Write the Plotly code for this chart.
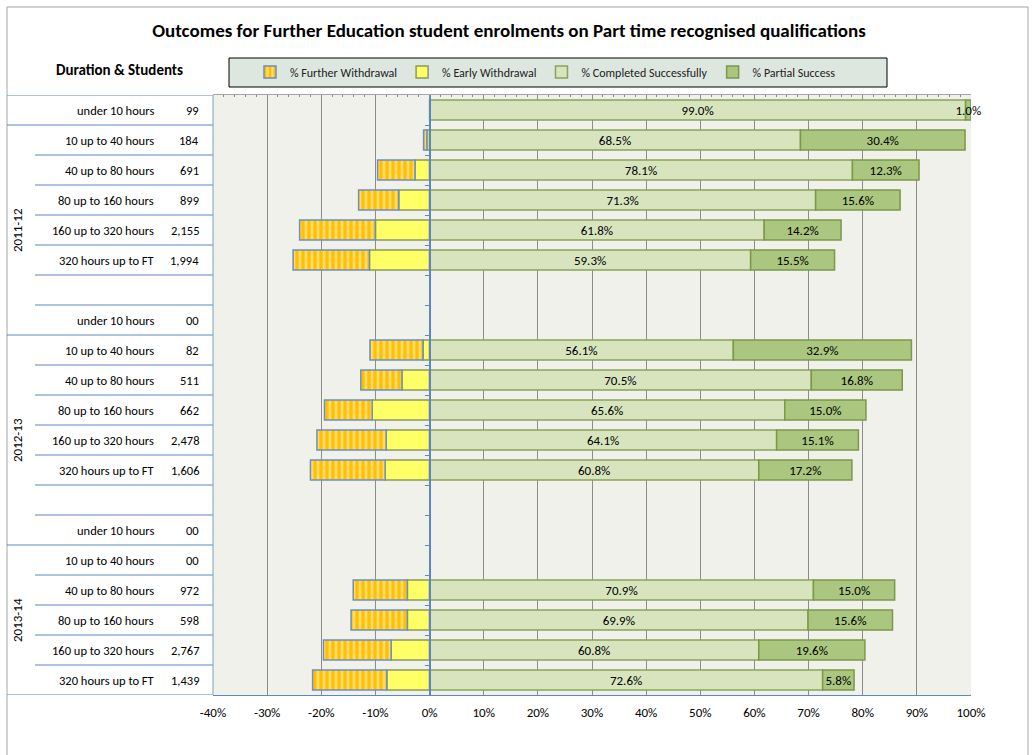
import plotly.graph_objects as go

# ---------------- data ----------------
title = "Outcomes for Further Education student enrolments on Part time recognised qualifications"
years = ["2011-12", "2012-13", "2013-14"]
year_first_row = [1, 8, 15]
year_last_row = [7, 14, 19]
durations = ["under 10 hours", "10 up to 40 hours", "40 up to 80 hours",
             "80 up to 160 hours", "160 up to 320 hours", "320 hours up to FT"]
row_duration = durations + [""] + durations + [""] + durations
students = ["99", "184", "691", "899", "2,155", "1,994", "",
            "00", "82", "511", "662", "2,478", "1,606", "",
            "00", "00", "972", "598", "2,767", "1,439"]

further_withdrawal = [None, 0.6, 6.9, 7.4, 14.0, 14.1, None,
                      None, 9.8, 7.6, 8.8, 12.8, 13.8, None,
                      None, None, 10.0, 10.4, 12.5, 13.7]
early_withdrawal = [None, 0.5, 2.7, 5.7, 10.0, 11.1, None,
                    None, 1.2, 5.1, 10.6, 8.0, 8.2, None,
                    None, None, 4.1, 4.1, 7.1, 7.9]
completed = [99.0, 68.5, 78.1, 71.3, 61.8, 59.3, None,
             None, 56.1, 70.5, 65.6, 64.1, 60.8, None,
             None, None, 70.9, 69.9, 60.8, 72.6]
partial = [1.0, 30.4, 12.3, 15.6, 14.2, 15.5, None,
           None, 32.9, 16.8, 15.0, 15.1, 17.2, None,
           None, None, 15.0, 15.6, 19.6, 5.8]

x_ticks = list(range(-40, 101, 10))
x_tick_labels = [f"{v}%" for v in x_ticks]

# ---------------- layout geometry ----------------
W, H = 1035, 755
L, R, T, B = 213, 971, 95, 695
FONT = "Carlito, Calibri, Lato, sans-serif"


def px2x(px):
    return (px - L) / (R - L)


def py2y(py):
    return (B - py) / (B - T)


rows = list(range(len(row_duration)))


def neg(vals):
    return [None if v is None else -v for v in vals]


fig = go.Figure()

fig.add_trace(go.Bar(
    name="% Early Withdrawal", y=rows, x=neg(early_withdrawal), orientation="h",
    marker=dict(color="#FFFF66", line=dict(color="#8A9A5B", width=1.5)),
    legendrank=2, hoverinfo="skip"))
fig.add_trace(go.Bar(
    name="% Further Withdrawal", y=rows, x=neg(further_withdrawal), orientation="h",
    marker=dict(color="#FFC000", line=dict(color="#6A8FC4", width=1.5),
                pattern=dict(shape="|", fgcolor="#FFF6DC", bgcolor="#FFC000",
                             size=6, solidity=0.45)),
    legendrank=1, hoverinfo="skip"))
fig.add_trace(go.Bar(
    name="% Completed Successfully", y=rows, x=completed, orientation="h",
    marker=dict(color="#D7E4BD", line=dict(color="#8AA35A", width=1.5)),
    texttemplate="%{x:.1f}%", textposition="inside", insidetextanchor="middle",
    textangle=0, constraintext="none",
    textfont=dict(family=FONT, size=13, color="#000000"),
    legendrank=3, hoverinfo="skip"))
fig.add_trace(go.Bar(
    name="% Partial Success", y=rows, x=partial, orientation="h",
    marker=dict(color="#ABC67E", line=dict(color="#7C9848", width=1.5)),
    texttemplate="%{x:.1f}%", textposition="inside", insidetextanchor="middle",
    textangle=0, constraintext="none", cliponaxis=False,
    textfont=dict(family=FONT, size=13, color="#000000"),
    legendrank=4, hoverinfo="skip"))
# helper for the top ruler axis
fig.add_trace(go.Scatter(x=[x_ticks[0], x_ticks[-1]], y=[rows[0], rows[0]], xaxis="x2",
                         mode="markers", marker=dict(opacity=0), showlegend=False,
                         hoverinfo="skip"))

shapes = []
# outer frame
shapes.append(dict(type="rect", xref="paper", yref="paper",
                   x0=px2x(7), x1=px2x(1028), y0=py2y(760), y1=py2y(7),
                   line=dict(color="#A6A6A6", width=1), layer="below"))
# legend box
shapes.append(dict(type="rect", xref="paper", yref="paper",
                   x0=px2x(229), x1=px2x(887), y0=py2y(87), y1=py2y(58),
                   line=dict(color="#000000", width=1), fillcolor="#DEE6E0", layer="below"))
# table lines
group_bounds = [-0.5] + [f - 0.5 for f in year_first_row] + [year_last_row[-1] + 0.5]
for b in [r - 0.5 for r in rows] + [rows[-1] + 0.5]:
    start = 7 if b in group_bounds else 35
    shapes.append(dict(type="line", xref="paper", yref="y",
                       x0=px2x(start), x1=0, y0=b, y1=b,
                       line=dict(color="#5B87C5", width=1)))
# table right edge
shapes.append(dict(type="line", xref="paper", yref="paper", x0=0, x1=0, y0=0, y1=1,
                   line=dict(color="#7F9FCB", width=1)))

annotations = []
for r in rows:
    if row_duration[r]:
        annotations.append(dict(text=row_duration[r], xref="paper", yref="y",
                                x=px2x(156), y=r, xanchor="right", yanchor="middle",
                                showarrow=False, font=dict(family=FONT, size=12.5, color="#000")))
    if students[r]:
        annotations.append(dict(text=students[r], xref="paper", yref="y",
                                x=px2x(201), y=r, xanchor="right", yanchor="middle",
                                showarrow=False, font=dict(family=FONT, size=12.5, color="#000")))
for yr, f, l in zip(years, year_first_row, year_last_row):
    annotations.append(dict(text=yr, xref="paper", yref="y", x=px2x(17), y=(f + l) / 2,
                            textangle=-90, xanchor="center", yanchor="middle",
                            showarrow=False, font=dict(family=FONT, size=13, color="#000")))
annotations.append(dict(text="<b>Duration & Students</b>", xref="paper", yref="paper",
                        x=px2x(119), y=py2y(70), xanchor="center", yanchor="middle",
                        showarrow=False, font=dict(family=FONT, size=15, color="#000")))

fig.update_layout(
    width=W, height=H,
    margin=dict(l=L, r=W - R, t=T, b=H - B, pad=0),
    paper_bgcolor="#FFFFFF", plot_bgcolor="#EFF1EA",
    barmode="relative", bargap=0.33,
    title=dict(text="<b>" + title + "</b>", x=509 / W, xanchor="center", y=1 - 30 / H,
               yanchor="middle", font=dict(family=FONT, size=19, color="#000")),
    font=dict(family=FONT, size=13, color="#000"),
    showlegend=True,
    legend=dict(orientation="h", x=px2x(250), y=py2y(72), xanchor="left", yanchor="middle",
                bgcolor="rgba(0,0,0,0)", borderwidth=0,
                font=dict(family=FONT, size=12, color="#222"), traceorder="normal"),
    xaxis=dict(range=[x_ticks[0], x_ticks[-1]], tickvals=x_ticks, ticktext=x_tick_labels,
               showgrid=True, gridcolor="#8C8C8C", gridwidth=1, zeroline=False,
               showline=True, linecolor="#5B87C5", linewidth=1, ticks="",
               tickfont=dict(family=FONT, size=13, color="#000"), ticklabelstandoff=5,
               fixedrange=True),
    xaxis2=dict(overlaying="x", side="top", matches="x", showgrid=False, zeroline=False,
                showticklabels=False, showline=True, linecolor="#A6A6A6",
                ticks="inside", ticklen=4, tickcolor="#8C8C8C", tickvals=x_ticks,
                minor=dict(ticks="inside", ticklen=2, dtick=2, tickcolor="#8C8C8C")),
    yaxis=dict(range=[rows[-1] + 0.5, rows[0] - 0.5], showticklabels=False, showgrid=False,
               zeroline=False, showline=True, linecolor="#5B87C5", linewidth=1.5,
               anchor="free", position=(0 - x_ticks[0]) / (x_ticks[-1] - x_ticks[0]),
               ticks="outside", ticklen=4, tickcolor="#5B87C5",
               tickvals=[r + 0.5 for r in rows[:-1]], fixedrange=True),
    shapes=shapes, annotations=annotations,
)

fig.write_html("out.html", config={"displayModeBar": False},
               post_script="document.body.style.margin='0px';")
